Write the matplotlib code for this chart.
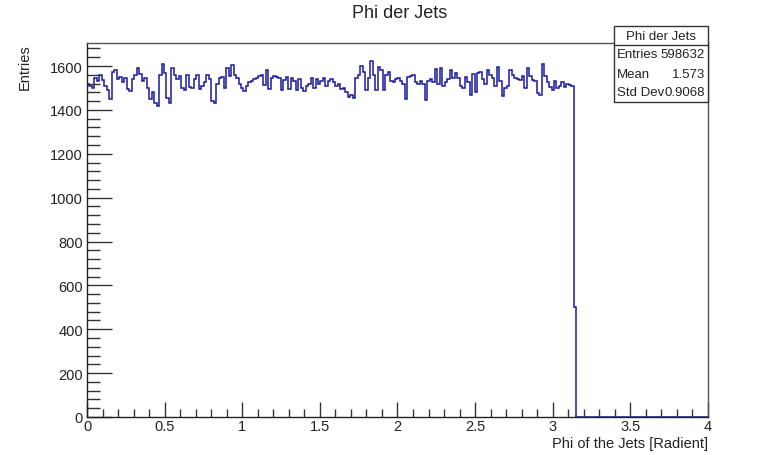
import matplotlib as mp
mp.use("Agg")
import matplotlib.pyplot as pyplot
import numpy as np
from matplotlib.patches import Rectangle
from matplotlib.ticker import MultipleLocator

mp.rcParams['font.family'] = ['Liberation Sans', 'DejaVu Sans']

# histogram: 250 bins from 0 to 4, bin contents
x_lo, x_hi, n_bins = 0.0, 4.0, 250
counts = [
    1520, 1510, 1500, 1545, 1530, 1560, 1535, 1510, 1490, 1450,
    1575, 1580, 1540, 1550, 1525, 1545, 1495, 1485, 1540, 1560,
    1590, 1565, 1530, 1545, 1500, 1450, 1480, 1430, 1420, 1560,
    1610, 1570, 1455, 1430, 1590, 1560, 1540, 1555, 1500, 1490,
    1560, 1505, 1500, 1540, 1560, 1495, 1510, 1525, 1560, 1540,
    1440, 1430, 1520, 1545, 1550, 1500, 1590, 1555, 1605, 1560,
    1545, 1520, 1500, 1485, 1510, 1525, 1530, 1540, 1545, 1555,
    1560, 1515, 1580, 1495, 1545, 1555, 1550, 1545, 1490, 1535,
    1550, 1495, 1545, 1530, 1490, 1540, 1500, 1485, 1510, 1520,
    1545, 1500, 1540, 1520, 1530, 1545, 1510, 1530, 1540, 1525,
    1510, 1520, 1495, 1500, 1480, 1460, 1470, 1455, 1545, 1560,
    1600, 1575, 1490, 1545, 1625, 1560, 1490, 1595, 1580, 1490,
    1560, 1575, 1530, 1525, 1540, 1545, 1530, 1520, 1450, 1550,
    1555, 1560, 1525, 1520, 1530, 1520, 1445, 1530, 1540, 1525,
    1585, 1520, 1590, 1510, 1525, 1540, 1580, 1545, 1570, 1545,
    1510, 1500, 1550, 1525, 1470, 1565, 1480, 1570, 1575, 1540,
    1520, 1580, 1560, 1545, 1510, 1595, 1530, 1465, 1500, 1510,
    1580, 1560, 1545, 1540, 1535, 1555, 1500, 1590, 1555, 1535,
    1530, 1475, 1470, 1610, 1555, 1525, 1505, 1490, 1530, 1500,
    1510, 1525, 1505, 1520, 1515, 1510,
    500,
]
counts = counts + [0] * (n_bins - len(counts))
edges = np.linspace(x_lo, x_hi, n_bins + 1)

title = "Phi der Jets"
xlabel = "Phi of the Jets [Radient]"
ylabel = "Entries"
stat_names = ["Entries", "Mean", "Std Dev"]
stat_values = ["598632", "1.573", "0.9068"]

W, H = 782, 456
fig = pyplot.figure(figsize=(W / 100, H / 100), dpi=100)
L, R, T, B = 87, 708, 44, 418
axis = fig.add_axes([L / W, 1 - B / H, (R - L) / W, (B - T) / H])

axis.stairs(counts, edges, color="#1a1a9c", linewidth=1.1, baseline=0)

axis.set_xlim(x_lo, x_hi)
axis.set_ylim(0, 1705)
axis.xaxis.set_major_locator(MultipleLocator(0.5))
axis.xaxis.set_minor_locator(MultipleLocator(0.1))
axis.yaxis.set_major_locator(MultipleLocator(200))
axis.yaxis.set_minor_locator(MultipleLocator(40))
axis.xaxis.set_major_formatter(mp.ticker.FuncFormatter(lambda v, p: "%g" % v))
axis.tick_params(which="both", direction="in", top=False, right=False,
                 color="#333333", labelsize=10.5, labelcolor="#222222")
axis.tick_params(axis="x", which="major", length=11, width=1, pad=1.5)
axis.tick_params(axis="x", which="minor", length=5.5, width=1)
axis.tick_params(axis="y", which="major", length=18, width=1, pad=3)
axis.tick_params(axis="y", which="minor", length=9, width=1)
for s in axis.spines.values():
    s.set_color("#555555")
    s.set_linewidth(1.0)
axis.spines["left"].set_color("#222222")
axis.spines["bottom"].set_color("#222222")

fig.text(400 / W, 1 - 14 / H, title, ha="center", va="center", fontsize=13, color="#222222")
fig.text(R / W, 1 - 444 / H, xlabel, ha="right", va="center", fontsize=10.5, color="#222222")
fig.text(25 / W, 1 - 44 / H, ylabel, ha="center", va="top", rotation=90, fontsize=10.5, color="#222222")

# statistics box
bx0, bx1, by0, by1 = 614, 708, 27, 103
row_h = (by1 - by0) / 4.0
box = Rectangle((bx0 / W, 1 - by1 / H), (bx1 - bx0) / W, (by1 - by0) / H,
                transform=fig.transFigure, facecolor="white", edgecolor="#333333",
                linewidth=1.0, zorder=5)
fig.add_artist(box)
fig.add_artist(pyplot.Line2D([bx0 / W, bx1 / W], [1 - (by0 + row_h) / H] * 2,
                             transform=fig.transFigure, color="#333333", linewidth=1.0, zorder=6))
fig.text((bx0 + bx1) / 2 / W, 1 - (by0 + row_h / 2) / H, title, ha="center", va="center",
         fontsize=9.5, color="#222222", zorder=7)
for i in range(len(stat_names)):
    yc = 1 - (by0 + row_h * (i + 1.5)) / H
    fig.text((bx0 + 3) / W, yc, stat_names[i], ha="left", va="center", fontsize=9.5,
             color="#222222", zorder=7)
    fig.text((bx1 - 3) / W, yc, stat_values[i], ha="right", va="center", fontsize=9.5,
             color="#222222", zorder=7)

pyplot.savefig("out.png", dpi=100)
